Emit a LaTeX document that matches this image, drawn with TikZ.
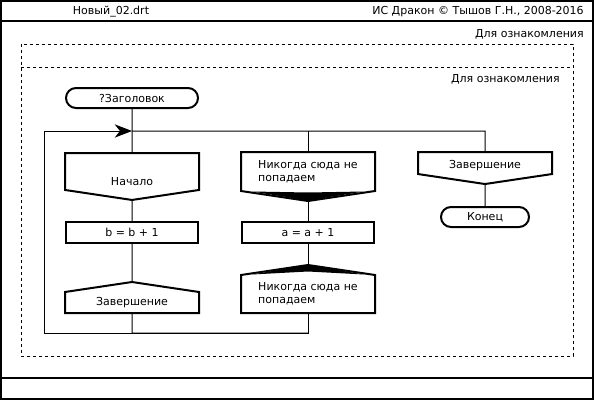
\documentclass[tikz,border=0pt]{standalone}
\usepackage{fontspec}
\setmainfont{DejaVu Sans}
\usetikzlibrary{arrows.meta,shapes.misc,backgrounds}
\tikzset{
  >={Stealth[length=13pt,width=10pt,inset=4pt]},
  wire/.style={line width=0.75pt},
  frame/.style={line width=1.5pt},
  dash box/.style={line width=0.75pt,dash pattern=on 2.25pt off 2.25pt},
  caption/.style={font=\fontsize{8.25}{10}\selectfont,inner sep=0pt},
  icon/.style={draw,line width=1.5pt,fill=white,minimum width=#1,minimum height=15.75pt,
    inner sep=0pt,font=\fontsize{8.25}{10}\selectfont},
  icon/.default=99pt,
  term/.style={icon=#1,rounded rectangle,minimum height=15pt},
  term/.default=99pt,
  % outlines of these two are drawn by hand
  branch/.style={icon=#1,draw=none,fill=none},
  branch/.default=99pt,
  address/.style={icon=#1,draw=none,fill=none},
  address/.default=99pt,
  outline/.style={draw,line width=1.5pt,fill=white},
}

\begin{document}
\begin{tikzpicture}[x=0.75pt,y=-0.75pt]
  \useasboundingbox (0,0) rectangle (594,400);
  \draw[frame] (1,1) rectangle (593,399) (0,21) -- (594,21) (0,378) -- (594,378);
  \node[caption] (file) at (111,12) {Новый\_02.drt};
  \node[caption,anchor=east] (copy) at (584,12) {ИС Дракон © Тышов Г.Н., 2008-2016};
  \node[caption,anchor=east] (demo1) at (584,34) {Для ознакомления};
  \draw[dash box] (21,44) rectangle (573,356) (21,67) -- (573,67);
  \node[caption,anchor=east] (demo2) at (560,79) {Для ознакомления};

  % icons
  \node[term] (title) at (132,98) {?Заголовок};
  \node[branch,anchor=base,minimum height=0pt,text height=23.6pt,text depth=2.6pt] (beg) at (132,185.5) {Начало};
  \node[icon] (incb) at (132,232.5) {b = b + 1};
  \node[address,minimum height=14.25pt] (fin) at (132,302.5) {Завершение};
  \node[branch,minimum height=27.75pt,align=left] (never1) at (308,171.5) {Никогда сюда не\\попадаем};
  \node[icon] (inca) at (308,232.5) {a = a + 1};
  \node[address,minimum height=27pt,align=left] (never2) at (308,294) {Никогда сюда не\\попадаем};
  \node[branch,anchor=base,minimum height=0pt,text height=11.6pt,text depth=3.4pt] (fin3) at (485,168.5) {Завершение};
  \node[term=66pt] (stop) at (485,217) {Конец};
  \coordinate (bot) at (44,333);
  \coordinate (jn) at (132,131);

  \begin{scope}[on background layer]
    \draw[wire] (title) -- (beg) -- (incb) -- (fin) |- (never2 |- bot);
    \draw[wire,->] (never2) -- (never2 |- bot) -- (bot) |- (jn);
    \draw[wire] (jn) -| (fin3) -- (stop);
    \draw[wire] (never1 |- jn) -- (never1) -- (inca) -- (never2);
    \foreach \n in {beg,never1,fin3}
      \draw[outline] (\n.north west) -- (\n.north east) -- (\n.south east)
        -- ([yshift=-7.5pt]\n.south) -- (\n.south west) -- cycle;
    \foreach \n in {fin,never2}
      \draw[outline] (\n.south west) -- (\n.north west) -- ([yshift=7.5pt]\n.north)
        -- (\n.north east) -- (\n.south east) -- cycle;
    % never reached
    \fill (252,191.5) -- (308,200.5) -- (364,191.5) -- (308,192.5) -- cycle;
    \fill (252,274.5) -- (308,265) -- (364,274.5) -- (308,271.5) -- cycle;
  \end{scope}
\end{tikzpicture}
\end{document}
